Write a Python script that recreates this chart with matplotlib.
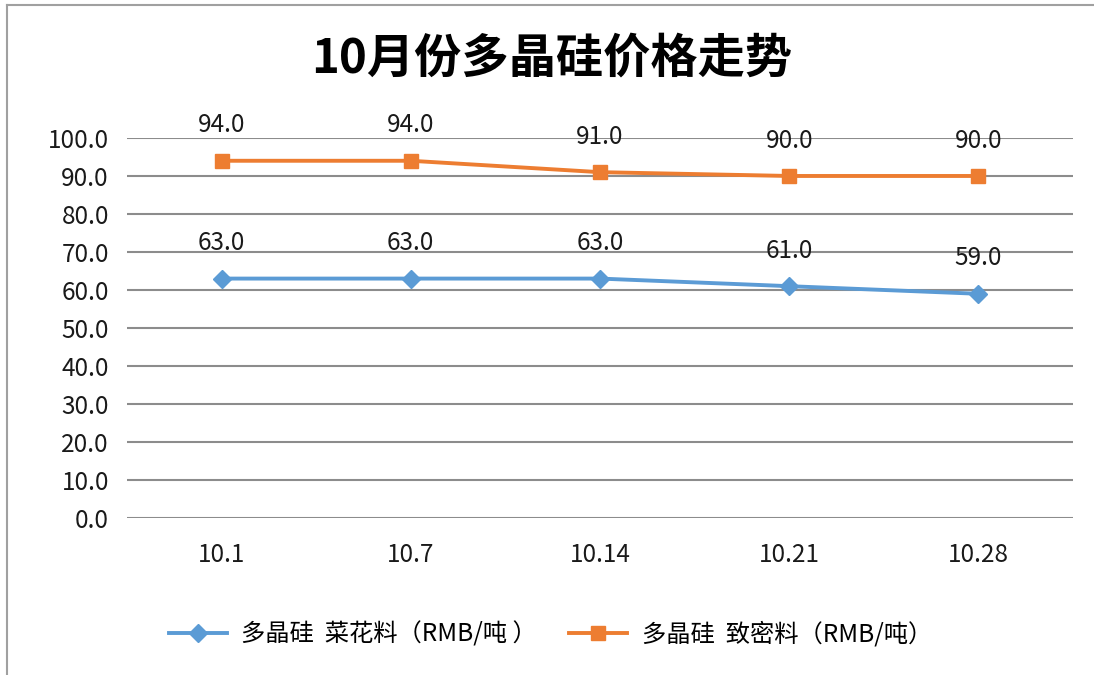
import numpy as np
import matplotlib.pyplot as plt
from matplotlib.lines import Line2D

plt.rcParams['font.family'] = ['Noto Sans CJK SC', 'DejaVu Sans']

dates = ['10.1', '10.7', '10.14', '10.21', '10.28']
flower = [63.0, 63.0, 63.0, 61.0, 59.0]   # 菜花料
dense = [94.0, 94.0, 91.0, 90.0, 90.0]    # 致密料
yticks = np.arange(0, 101, 10)

blue = '#5B9BD5'
orange = '#ED7D31'

fig = plt.figure(figsize=(10.94, 6.75), dpi=100)
ax = fig.add_axes([0.1161, 0.2326, 0.8647, 0.5630])

x = np.arange(len(dates))
ax.plot(x, flower, color=blue, lw=2.8, marker='D', ms=9,
        label='多晶硅 菜花料（RMB/吨 ）', zorder=3)
ax.plot(x, dense, color=orange, lw=2.8, marker='s', ms=10.5,
        label='多晶硅 致密料（RMB/吨）', zorder=3)

for xi, v in zip(x, flower):
    ax.annotate(f'{v:.1f}', (xi, v), xytext=(0, 25.5), textcoords='offset points',
                ha='center', va='center', fontsize=17.5, color='#1a1a1a', zorder=4)
for xi, v in zip(x, dense):
    ax.annotate(f'{v:.1f}', (xi, v), xytext=(0, 25.5), textcoords='offset points',
                ha='center', va='center', fontsize=17.5, color='#1a1a1a', zorder=4)

ax.set_xlim(-0.5, len(dates) - 0.5)
ax.set_ylim(0, 100)
ax.set_yticks(yticks)
ax.set_yticklabels([f'{t:.1f}' for t in yticks])
ax.set_xticks(x)
ax.set_xticklabels(dates)
ax.tick_params(axis='both', length=0, labelsize=17.5, colors='#1a1a1a')
ax.tick_params(axis='y', pad=13)
ax.tick_params(axis='x', pad=17)
ax.grid(axis='y', color='#8c8c8c', lw=1.5)
ax.set_axisbelow(True)
for s in ax.spines.values():
    s.set_visible(False)

fig.text(0.504, 0.914, '10月份多晶硅价格走势', ha='center', va='center',
         fontsize=34, fontweight='bold', color='black')

handles = [Line2D([], [], color=blue, lw=2.8, marker='D', ms=9),
           Line2D([], [], color=orange, lw=2.8, marker='s', ms=10.5)]
fig.legend(handles, ['多晶硅  菜花料（RMB/吨 ）', '多晶硅  致密料（RMB/吨）'],
           loc='center', bbox_to_anchor=(0.503, 0.06), ncol=2, frameon=False,
           fontsize=17.5, handlelength=2.4, columnspacing=1.3, handletextpad=0.6)

# outer chart border
fig.add_artist(Line2D([7 / 1094, 1.0], [1 - 5 / 675, 1 - 5 / 675],
                      transform=fig.transFigure, color='#a0a0a0', lw=1.5))
fig.add_artist(Line2D([7 / 1094, 7 / 1094], [0.0, 1 - 5 / 675],
                      transform=fig.transFigure, color='#a0a0a0', lw=1.5))

fig.savefig('out.png', dpi=100, facecolor='white')
